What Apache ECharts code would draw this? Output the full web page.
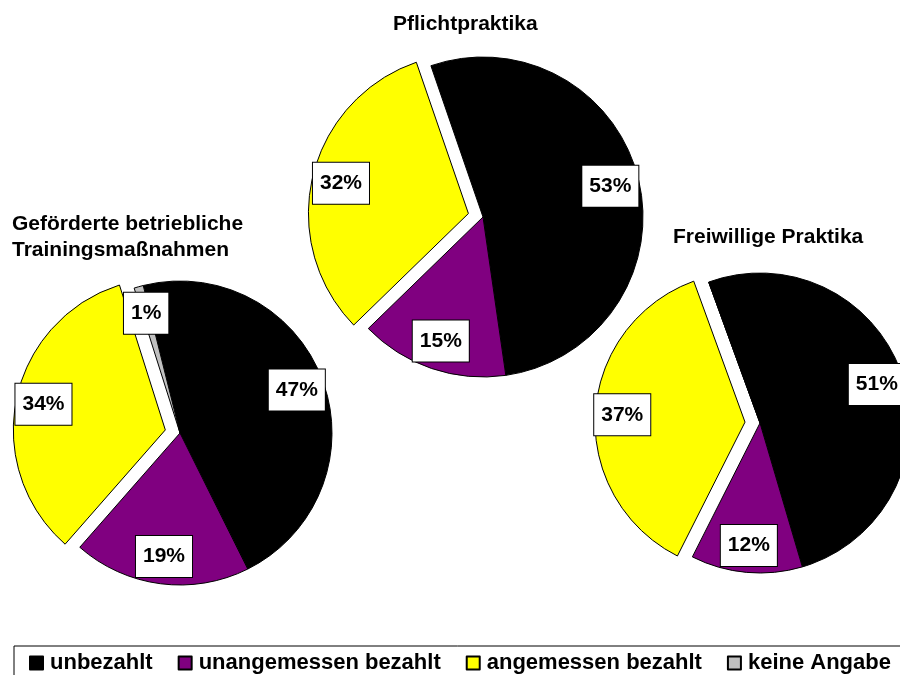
<!DOCTYPE html>
<html>
<head>
<meta charset="utf-8">
<script src="https://cdn.jsdelivr.net/npm/echarts@6/dist/echarts.min.js"></script>
<style>
  html, body { margin: 0; padding: 0; background: #fff; }
  #chart { width: 900px; height: 675px; }
</style>
</head>
<body>
<div id="chart"></div>
<script>
// Kategorien und Werte (in Prozent)
var categories = ['unbezahlt', 'unangemessen bezahlt', 'angemessen bezahlt', 'keine Angabe'];
var colors = ['#000000', '#800080', '#ffff00', '#c0c0c0'];

var titles = ['Geförderte betriebliche\nTrainingsmaßnahmen', 'Pflichtpraktika', 'Freiwillige Praktika'];
var trainingValues = [47, 19, 34, 1];
var pflichtValues = [53, 15, 32];
var freiwilligValues = [51, 12, 37, 0];

// welche Kategorie herausgezogen ist
var explodedName = 'angemessen bezahlt';

function makeData(values, withLabel) {
    var d = [];
    for (var i = 0; i < values.length; i++) {
        d.push({
            name: categories[i],
            value: values[i],
            selected: categories[i] === explodedName,
            itemStyle: { color: colors[i] },
            label: { show: withLabel && values[i] > 0 }
        });
    }
    return d;
}

function pieSeries(values, center, r, startAngle) {
    var base = {
        type: 'pie',
        center: center,
        startAngle: startAngle,
        clockwise: true,
        selectedMode: 'multiple',
        selectedOffset: 15,
        animation: false,
        avoidLabelOverlap: false,
        emphasis: { disabled: true },
        labelLine: { show: false }
    };
    var main = echarts.util.merge({
        radius: [0, r],
        data: makeData(values, false),
        itemStyle: { borderColor: '#000', borderWidth: 1 },
        label: { show: false }
    }, base, true);
    // transparenter Ring nur für die Beschriftungen (bei ca. 80% Radius)
    var lbl = makeData(values, true);
    for (var i = 0; i < lbl.length; i++) {
        lbl[i].itemStyle = { color: 'rgba(0,0,0,0)', borderWidth: 0 };
    }
    var labels = echarts.util.merge({
        radius: [Math.round(r * 0.6), r],
        silent: true,
        data: lbl,
        label: {
            show: true,
            position: 'inside',
            formatter: '{c}%',
            fontFamily: 'Liberation Sans, Arial, sans-serif',
            fontWeight: 'bold',
            fontSize: 21,
            lineHeight: 21,
            color: '#000',
            backgroundColor: '#fff',
            borderColor: '#000',
            borderWidth: 1,
            padding: [10, 7]
        }
    }, base, true);
    return [main, labels];
}

var titleStyle = {
    fontFamily: 'Liberation Sans, Arial, sans-serif',
    fontWeight: 'bold',
    fontSize: 21,
    lineHeight: 26,
    color: '#000'
};

var series = []
    .concat(pieSeries(trainingValues, [180, 433], 152, 104))
    .concat(pieSeries(pflichtValues, [483, 217], 160, 109))
    .concat(pieSeries(freiwilligValues, [760, 423], 150, 110));

var option = {
    backgroundColor: '#fff',
    color: colors,
    title: [
        { text: titles[0], left: 12, top: 211, padding: 0, textStyle: titleStyle },
        { text: titles[1], left: 393, top: 11, padding: 0, textStyle: titleStyle },
        { text: titles[2], left: 673, top: 224, padding: 0, textStyle: titleStyle }
    ],
    legend: {
        data: categories,
        left: 14,
        top: 646,
        width: 1200,
        padding: [6, 15, 12, 15],
        itemGap: 25,
        itemWidth: 13,
        itemHeight: 13,
        icon: 'rect',
        selectedMode: false,
        borderColor: '#000',
        borderWidth: 1,
        textStyle: {
            fontFamily: 'Liberation Sans, Arial, sans-serif',
            fontWeight: 'bold',
            fontSize: 22,
            color: '#000',
            padding: [0, 0, 0, 2]
        }
    },
    series: series
};

var chart = echarts.init(document.getElementById('chart'));
chart.setOption(option);
</script>
</body>
</html>
